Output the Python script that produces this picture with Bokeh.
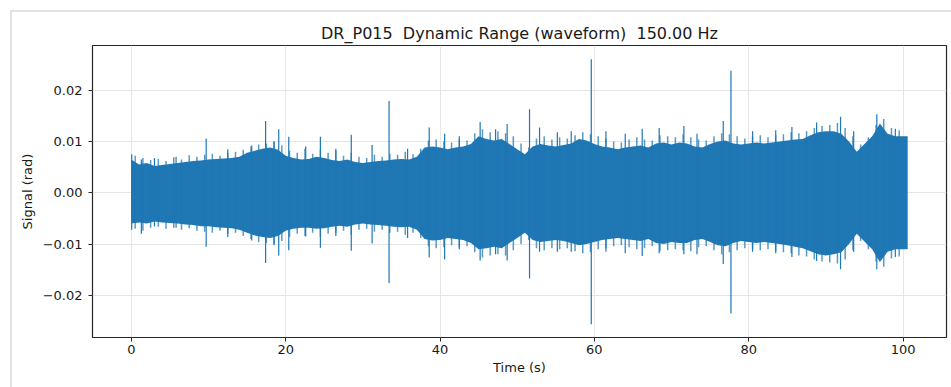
from bokeh.plotting import figure
from bokeh.models import Range1d, FixedTicker, CustomJSTickFormatter, ColumnDataSource
from bokeh.embed import file_html
from bokeh.resources import INLINE

TITLE = "DR_P015 \u00a0Dynamic Range (waveform) \u00a0150.00 Hz"
X_LABEL = "Time (s)"
Y_LABEL = "Signal (rad)"
X_TICKS = [0, 20, 40, 60, 80, 100]
Y_TICKS = [-0.02, -0.01, 0.0, 0.01, 0.02]

# dense band of the waveform, read per second (rad)
t_env = [0, 1, 2, 3, 4, 5, 6, 7, 8, 9, 10, 11, 12, 13, 14, 15, 16, 17, 18, 19,
         20, 21, 22, 23, 24, 25, 26, 27, 28, 29, 30, 31, 32, 33, 34, 35, 36, 37, 38, 39,
         40, 41, 42, 43, 44, 45, 46, 47, 48, 49, 50, 51, 52, 53, 54, 55, 56, 57, 58, 59,
         60, 61, 62, 63, 64, 65, 66, 67, 68, 69, 70, 71, 72, 73, 74, 75, 76, 77, 78, 79,
         80, 81, 82, 83, 84, 85, 86, 87, 88, 89, 90, 91, 92, 93, 94, 95, 96, 97, 98, 99,
         100, 100.6]
upper_env = [0.0065, 0.0055, 0.0058, 0.0052, 0.0054, 0.0056, 0.0058, 0.0060, 0.0062, 0.0063,
             0.0065, 0.0066, 0.0067, 0.0068, 0.0070, 0.0078, 0.0082, 0.0086, 0.0088, 0.0084,
             0.0072, 0.0068, 0.0065, 0.0066, 0.0070, 0.0068, 0.0064, 0.0062, 0.0065, 0.0060,
             0.0058, 0.0060, 0.0062, 0.0063, 0.0065, 0.0066, 0.0065, 0.0070, 0.0088, 0.0090,
             0.0088, 0.0085, 0.0088, 0.0090, 0.0095, 0.0110, 0.0105, 0.0102, 0.0105, 0.0095,
             0.0085, 0.0075, 0.0090, 0.0095, 0.0092, 0.0090, 0.0093, 0.0096, 0.0105, 0.0102,
             0.0095, 0.0090, 0.0088, 0.0085, 0.0088, 0.0090, 0.0092, 0.0088, 0.0096, 0.0098,
             0.0094, 0.0098, 0.0096, 0.0090, 0.0088, 0.0095, 0.0100, 0.0102, 0.0096, 0.0094,
             0.0096, 0.0098, 0.0096, 0.0098, 0.0100, 0.0102, 0.0104, 0.0105, 0.0112, 0.0118,
             0.0120, 0.0120, 0.0115, 0.0100, 0.0080, 0.0095, 0.0110, 0.0135, 0.0115, 0.0110,
             0.0110, 0.0110]
lower_env = [-0.0060, -0.0058, -0.0060, -0.0056, -0.0058, -0.0059, -0.0060, -0.0062, -0.0063, -0.0065,
             -0.0065, -0.0067, -0.0068, -0.0069, -0.0072, -0.0078, -0.0083, -0.0086, -0.0088, -0.0084,
             -0.0074, -0.0070, -0.0068, -0.0068, -0.0070, -0.0069, -0.0066, -0.0064, -0.0066, -0.0062,
             -0.0060, -0.0062, -0.0063, -0.0064, -0.0066, -0.0067, -0.0066, -0.0072, -0.0090, -0.0093,
             -0.0092, -0.0088, -0.0090, -0.0092, -0.0098, -0.0110, -0.0108, -0.0105, -0.0108, -0.0098,
             -0.0088, -0.0078, -0.0092, -0.0096, -0.0094, -0.0092, -0.0094, -0.0098, -0.0102, -0.0100,
             -0.0096, -0.0092, -0.0090, -0.0088, -0.0090, -0.0092, -0.0094, -0.0090, -0.0098, -0.0100,
             -0.0096, -0.0098, -0.0098, -0.0092, -0.0090, -0.0096, -0.0102, -0.0104, -0.0098, -0.0094,
             -0.0096, -0.0098, -0.0096, -0.0098, -0.0100, -0.0102, -0.0105, -0.0108, -0.0114, -0.0120,
             -0.0122, -0.0120, -0.0116, -0.0100, -0.0080, -0.0095, -0.0110, -0.0135, -0.0115, -0.0110,
             -0.0110, -0.0110]

# local peaks of the fringe, read per half second (rad)
t_fringe = [0.5, 1.5, 2.5, 3.5, 4.5, 5.5, 6.5, 7.5, 8.5, 9.5, 10.5, 11.5, 12.5, 13.5, 14.5,
            15.5, 16.5, 17.5, 18.5, 19.5, 20.5, 21.5, 22.5, 23.5, 24.5, 25.5, 26.5, 27.5, 28.5,
            29.5, 30.5, 31.5, 32.5, 33.5, 34.5, 35.5, 36.5, 37.5, 38.5, 39.5, 40.5, 41.5, 42.5,
            43.5, 44.5, 45.5, 46.5, 47.5, 48.5, 49.5, 50.5, 51.5, 52.5, 53.5, 54.5, 55.5, 56.5,
            57.5, 58.5, 59.5, 60.5, 61.5, 62.5, 63.5, 64.5, 65.5, 66.5, 67.5, 68.5, 69.5, 70.5,
            71.5, 72.5, 73.5, 74.5, 75.5, 76.5, 77.5, 78.5, 79.5, 80.5, 81.5, 82.5, 83.5, 84.5,
            85.5, 86.5, 87.5, 88.5, 89.5, 90.5, 91.5, 92.5, 93.5, 94.5, 95.5, 96.5, 97.5, 98.5,
            99.5]
upper_peak = [0.0072, 0.0068, 0.0064, 0.0066, 0.0062, 0.0069, 0.0065, 0.0073, 0.0070, 0.0074,
              0.0076, 0.0072, 0.0078, 0.0080, 0.0084, 0.0090, 0.0094, 0.0096, 0.0100, 0.0092,
              0.0082, 0.0078, 0.0086, 0.0076, 0.0084, 0.0078, 0.0082, 0.0072, 0.0078, 0.0070,
              0.0068, 0.0074, 0.0070, 0.0076, 0.0074, 0.0080, 0.0075, 0.0086, 0.0102, 0.0104,
              0.0100, 0.0098, 0.0104, 0.0102, 0.0116, 0.0124, 0.0118, 0.0120, 0.0116, 0.0110,
              0.0096, 0.0088, 0.0106, 0.0110, 0.0104, 0.0108, 0.0106, 0.0112, 0.0118, 0.0114,
              0.0110, 0.0106, 0.0100, 0.0098, 0.0104, 0.0108, 0.0104, 0.0102, 0.0112, 0.0110,
              0.0108, 0.0114, 0.0108, 0.0104, 0.0102, 0.0110, 0.0116, 0.0114, 0.0110, 0.0106,
              0.0110, 0.0112, 0.0108, 0.0112, 0.0114, 0.0118, 0.0116, 0.0120, 0.0126, 0.0130,
              0.0132, 0.0136, 0.0126, 0.0110, 0.0094, 0.0108, 0.0132, 0.0144, 0.0126, 0.0122]
lower_peak = [-0.0070, -0.0074, -0.0068, -0.0066, -0.0070, -0.0068, -0.0072, -0.0069, -0.0074, -0.0076,
              -0.0078, -0.0074, -0.0080, -0.0078, -0.0084, -0.0090, -0.0096, -0.0098, -0.0100, -0.0094,
              -0.0086, -0.0080, -0.0084, -0.0078, -0.0086, -0.0080, -0.0078, -0.0074, -0.0082, -0.0072,
              -0.0070, -0.0076, -0.0072, -0.0078, -0.0076, -0.0082, -0.0078, -0.0088, -0.0104, -0.0108,
              -0.0106, -0.0102, -0.0106, -0.0104, -0.0116, -0.0126, -0.0122, -0.0120, -0.0122, -0.0112,
              -0.0100, -0.0092, -0.0108, -0.0112, -0.0108, -0.0110, -0.0108, -0.0114, -0.0118, -0.0116,
              -0.0110, -0.0108, -0.0104, -0.0102, -0.0106, -0.0110, -0.0108, -0.0104, -0.0114, -0.0112,
              -0.0110, -0.0112, -0.0114, -0.0106, -0.0104, -0.0112, -0.0120, -0.0116, -0.0112, -0.0108,
              -0.0110, -0.0112, -0.0110, -0.0114, -0.0116, -0.0118, -0.0122, -0.0124, -0.0130, -0.0134,
              -0.0136, -0.0138, -0.0130, -0.0112, -0.0094, -0.0110, -0.0134, -0.0144, -0.0128, -0.0124]

# isolated peaks that stick out of the band (time s, max rad, min rad)
spike_t = [0.05, 1.3, 3.0, 5.8, 9.7, 12.5, 15.6, 17.4, 18.5, 19.1, 20.4, 22.6, 24.5, 26.5,
           28.5, 31.2, 33.4, 35.8, 38.6, 40.6, 42.5, 45.2, 47.2, 48.7, 51.6, 52.9, 55.2,
           57.0, 59.6, 61.5, 64.0, 66.2, 68.4, 71.6, 73.3, 76.7, 77.7, 80.5, 83.5, 85.6,
           88.8, 91.9, 93.6, 96.6, 99.0]
spike_max = [0.0075, 0.0065, 0.0068, 0.0070, 0.0106, 0.0085, 0.0092, 0.0140, 0.0100, 0.0124,
             0.0109, 0.0090, 0.0109, 0.0086, 0.0113, 0.0093, 0.0179, 0.0086, 0.0127, 0.0115,
             0.0110, 0.0138, 0.0124, 0.0134, 0.0163, 0.0127, 0.0118, 0.0120, 0.0260, 0.0120,
             0.0115, 0.0125, 0.0126, 0.0130, 0.0115, 0.0140, 0.0238, 0.0120, 0.0122, 0.0128,
             0.0137, 0.0148, 0.0120, 0.0153, 0.0125]
spike_min = [-0.0072, -0.0080, -0.0065, -0.0068, -0.0105, -0.0086, -0.0093, -0.0137, -0.0102, -0.0122,
             -0.0112, -0.0085, -0.0107, -0.0084, -0.0113, -0.0099, -0.0176, -0.0088, -0.0126, -0.0130,
             -0.0110, -0.0132, -0.0120, -0.0132, -0.0167, -0.0115, -0.0115, -0.0115, -0.0256, -0.0115,
             -0.0118, -0.0123, -0.0118, -0.0120, -0.0120, -0.0139, -0.0235, -0.0115, -0.0118, -0.0125,
             -0.0133, -0.0149, -0.0115, -0.0149, -0.0125]

BLUE = "#1f77b4"
FONT = "DejaVu Sans"
CARD = "#e2e2e2"

p = figure(width=951, height=387, output_backend="svg", toolbar_location=None,
           x_range=Range1d(-5.03, 105.63), y_range=Range1d(-0.0282, 0.0287),
           min_border_left=92, min_border_right=5, min_border_top=45, min_border_bottom=50)
p.border_fill_color = None
p.background_fill_color = "white"
p.styles = {
    "background": (f"linear-gradient({CARD},{CARD}) 10px 10px / calc(100% - 10px) 2px no-repeat, "
                   f"linear-gradient({CARD},{CARD}) 10px 10px / 2px calc(100% - 10px) no-repeat, "
                   "white"),
}

p.title.text = TITLE
p.title.align = "center"
p.title.text_font = FONT
p.title.text_font_style = "normal"
p.title.text_font_size = "16px"
p.title.text_color = "#1a1a1a"
p.title.offset = 0
p.title.standoff = 5

env = ColumnDataSource(dict(t=t_env, up=upper_env, lo=lower_env))
p.varea(x="t", y1="lo", y2="up", source=env, fill_color=BLUE)

fr = ColumnDataSource(dict(t=t_fringe, up=upper_peak, lo=lower_peak))
p.segment(x0="t", y0="lo", x1="t", y1="up", source=fr, line_color=BLUE, line_width=1.5,
          line_alpha=0.75)

sp = ColumnDataSource(dict(t=spike_t, mx=spike_max, mn=spike_min))
p.segment(x0="t", y0="mn", x1="t", y1="mx", source=sp, line_color=BLUE, line_width=1.2)

p.outline_line_color = "#262626"
p.outline_line_width = 1.2
p.grid.grid_line_color = "#e6e6e6"
p.grid.grid_line_width = 1

p.xaxis.ticker = FixedTicker(ticks=X_TICKS)
p.yaxis.ticker = FixedTicker(ticks=Y_TICKS)
p.xaxis.formatter = CustomJSTickFormatter(code="return tick.toFixed(0);")
p.yaxis.formatter = CustomJSTickFormatter(
    code="return (tick < -1e-12 ? '\u2212' : '') + Math.abs(tick).toFixed(2);")
p.xgrid.ticker = FixedTicker(ticks=X_TICKS)
p.ygrid.ticker = FixedTicker(ticks=Y_TICKS)

for ax in (p.xaxis[0], p.yaxis[0]):
    ax.axis_line_color = None
    ax.major_tick_line_color = "#262626"
    ax.major_tick_in = 0
    ax.major_tick_out = 4
    ax.minor_tick_line_color = None
    ax.major_label_text_font = FONT
    ax.major_label_text_font_size = "13px"
    ax.major_label_text_color = "#1a1a1a"
    ax.axis_label_text_font = FONT
    ax.axis_label_text_font_size = "13px"
    ax.axis_label_text_font_style = "normal"
    ax.axis_label_text_color = "#1a1a1a"

p.xaxis.major_label_standoff = 3
p.yaxis.major_label_standoff = 6
p.xaxis.axis_label = X_LABEL
p.yaxis.axis_label = Y_LABEL
p.xaxis.axis_label_standoff = 3
p.yaxis.axis_label_standoff = 5

open("out.html", "w").write(file_html(p, INLINE))
